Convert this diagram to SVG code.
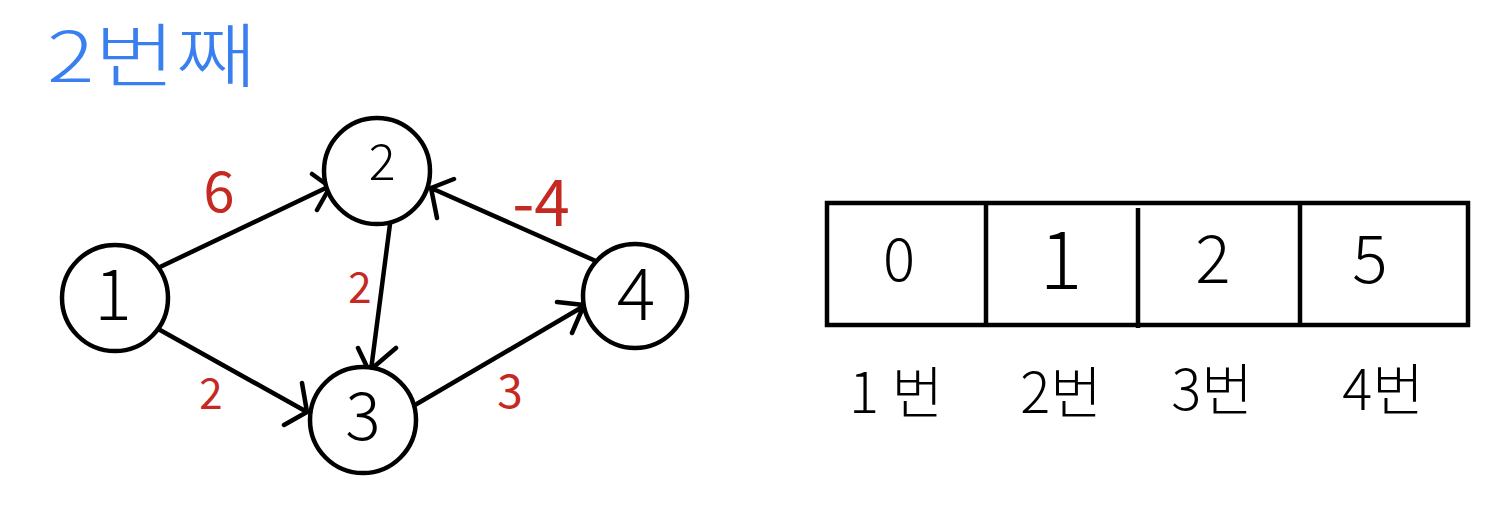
<svg xmlns="http://www.w3.org/2000/svg" width="1510" height="515" viewBox="0 0 1510 515">
<style>
.n{fill:#fff;stroke:#000;stroke-width:4.5}
.t{font-family:"Noto Sans CJK KR","Noto Sans",sans-serif;fill:#000;text-anchor:middle;font-weight:300}
.w{font-family:"Noto Sans CJK KR","Noto Sans",sans-serif;fill:#c42a22;text-anchor:middle;font-weight:400}
.e{stroke:#000;stroke-width:4.5;fill:none;stroke-linecap:round;stroke-linejoin:round}
.b{fill:none;stroke:#000;stroke-width:4.5}
</style>
<rect width="1510" height="515" fill="#fff"/>
<text x="152" y="82" font-family="'Noto Sans CJK KR',sans-serif" font-size="70" font-weight="300" fill="#3a7ff0" text-anchor="middle" textLength="210" lengthAdjust="spacingAndGlyphs">2번째</text>
<g id="connectors">
<path class="e" d="M160 267 L330 186 M312 174 L330 187 L317 210"/>
<path class="e" d="M160 330 L307 412 M302 383 L307 412 L284 425"/>
<path class="e" d="M390 224 L371 370 M358 348 L369 371 L396 348"/>
<path class="e" d="M415 405 L584 306 M557 302 L584 305 L572 333"/>
<path class="e" d="M598 262 L431 188 M454 179 L431 188 L437 218"/>
</g>
<g id="node1"><circle class="n" cx="115" cy="298" r="53"/><text class="t" x="113" y="320" font-size="70">1</text></g>
<g id="node2"><circle class="n" cx="377" cy="171" r="53"/><text class="t" x="382" y="180" font-size="50">2</text></g>
<g id="node3"><circle class="n" cx="363" cy="420" r="53"/><text class="t" x="363" y="440" font-size="66">3</text></g>
<g id="node4"><circle class="n" cx="635" cy="296" r="52"/><text class="t" x="636" y="320" font-size="72">4</text></g>
<g id="weights">
<text class="w" x="219" y="212" font-size="56">6</text>
<text class="w" x="541" y="226" font-size="64">-4</text>
<text class="w" x="360" y="303" font-size="42">2</text>
<text class="w" x="211" y="409" font-size="42">2</text>
<text class="w" x="510" y="408" font-size="46">3</text>
</g>
<g id="table">
<rect class="b" x="827" y="203" width="641" height="122"/>
<line class="b" x1="986" y1="203" x2="986" y2="325"/>
<line class="b" x1="1138" y1="208" x2="1138" y2="328"/>
<line class="b" x1="1300" y1="203" x2="1300" y2="325"/>
<text class="t" x="899" y="281" font-size="60">0</text>
<text class="t" x="1061" y="289" font-size="80">1</text>
<text class="t" x="1213" y="283" font-size="66">2</text>
<text class="t" x="1370" y="283" font-size="66">5</text>
<text class="t" x="896" y="413" font-size="56">1 번</text>
<text class="t" x="1061" y="413" font-size="56">2번</text>
<text class="t" x="1212" y="410" font-size="56">3번</text>
<text class="t" x="1383" y="410" font-size="56">4번</text>
</g>
</svg>
